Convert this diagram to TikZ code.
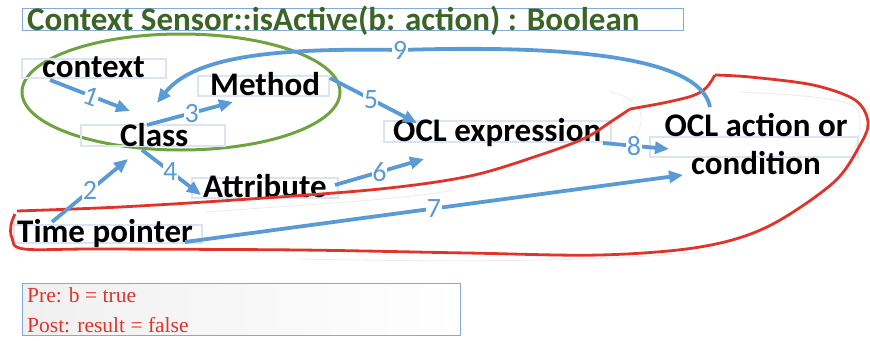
\documentclass[tikz,border=0pt]{standalone}
\usepackage{fontspec}
\setmainfont{Carlito}
\newfontfamily\serifface{Liberation Serif}
\usetikzlibrary{arrows.meta,calc}
\definecolor{flowblue}{HTML}{5B9BD5}
\definecolor{loopred}{HTML}{E0342A}
\definecolor{ctxgreen}{HTML}{6FA33F}
\definecolor{titlegreen}{HTML}{3B6526}
\definecolor{framelav}{HTML}{DDE3F1}
\definecolor{frameblue}{HTML}{86AAD6}
\tikzset{
  lbl/.style={font=\fontsize{33}{36}\selectfont\bfseries, inner sep=0pt, anchor=base west},
  lbox/.style={draw=framelav, line width=1.6pt},
  arr/.style={draw=flowblue, line width=3.8pt, -{Triangle[length=14pt,width=12pt]}},
  num/.style={font=\fontsize{28}{28}\selectfont, text=flowblue, fill=white, inner sep=0.5pt},
  ghost/.style={draw=black!8, line width=0.8pt},
  redline/.style={draw=loopred, line width=2.8pt, line join=round},
  condtext/.style={font=\serifface\fontsize{21.5}{22}\selectfont, text=loopred, inner sep=0pt, anchor=base west},
}
\begin{document}
\begin{tikzpicture}[x=1pt,y=-1pt]
\useasboundingbox (0,0) rectangle (870,340);

% title
\draw[frameblue, line width=0.8pt] (22,8) rectangle (683,30);
\node[lbl, text=titlegreen] (title) at (27,30) {Context Sensor::isActive(b: action) : Boolean};

% context ellipse
\draw[ctxgreen, line width=3pt] (181,92) ellipse [x radius=159, y radius=58];

% faint ghost outlines
\draw[ghost] (610,92) .. controls (650,100) and (650,130) .. (620,150);
\draw[ghost] (740,92) .. controls (800,95) and (850,98) .. (858,110) .. controls (866,130) and (850,170) .. (830,185);
\draw[ghost] (205,212) .. controls (300,205) and (400,200) .. (455,190);
\draw[ghost] (300,259) .. controls (450,262) and (600,262) .. (700,252);

% label frames
\draw[lbox] (22,59) rectangle (166,78);
\draw[lbox] (198,76) rectangle (329,96);
\draw[lbox] (81,125) rectangle (225,146);
\draw[lbox] (384,121) rectangle (611,142);
\draw[lbox] (650,137) rectangle (858,157);
\draw[lbox] (192,178) rectangle (338,198);
\draw[lbox] (14,225) rectangle (202,243);

% labels
\node[lbl] (context) at (42,77) {context};
\node[lbl] (method) at (210,95) {Method};
\node[lbl] (class) at (120,146) {Class};
\node[lbl] (oclexpr) at (393,141) {OCL expression};
\node[font=\fontsize{33}{38}\selectfont\bfseries, align=center, inner sep=0pt, anchor=base] (oclact) at (756,174) {OCL action or\\condition};
\node[lbl] (attribute) at (203,197) {Attribute};
\node[lbl] (timeptr) at (17,242) {Time pointer};

% red loop
\draw[redline]
  plot[smooth, tension=0.55] coordinates {(17,211) (120,207) (250,199) (380,189) (470,176) (540,155) (585,138) (612,121) (630,109)};
\draw[redline]
  plot[smooth, tension=0.55] coordinates {(630,109) (663,103) (692,96) (706,88) (715,75)};
\draw[redline]
  plot[smooth, tension=0.55] coordinates {(715,75) (750,77) (813,85) (855,100) (868,122) (860,145) (833,183) (767,227) (700,247) (600,255) (467,253) (300,250) (100,249) (24,249) (12,238) (11,225) (15,214)};

% connector end points
\coordinate (c1a) at (50,80);   \coordinate (c1b) at (130,111);
\coordinate (c2a) at (52,222);  \coordinate (c2b) at (128,159);
\coordinate (c3a) at (147,125); \coordinate (c3b) at (233,102);
\coordinate (c4a) at (142,150); \coordinate (c4b) at (201,195);
\coordinate (c5a) at (330,78);  \coordinate (c5b) at (417,123);
\coordinate (c6a) at (335,185); \coordinate (c6b) at (424,159);
\coordinate (c7a) at (185,242); \coordinate (c7b) at (683,175);
\coordinate (c8a) at (603,143); \coordinate (c8b) at (669,149);
\coordinate (c9a) at (710,107); \coordinate (c9m) at (400,50); \coordinate (c9b) at (157,103);

% connectors
\draw[arr] (c1a) -- node[num, pos=0.52, rotate=-20, inner sep=0pt] {1} (c1b);
\draw[arr] (c2a) -- node[num, pos=0.5] {2} (c2b);
\draw[arr] (c3a) -- node[num, pos=0.52] {3} (c3b);
\draw[arr] (c4a) -- node[num, pos=0.48] {4} (c4b);
\draw[arr] (c5a) -- node[num, pos=0.47] {5} (c5b);
\draw[arr] (c6a) -- node[num, pos=0.5] {6} (c6b);
\draw[arr] (c7a) -- node[num, pos=0.5] {7} (c7b);
\draw[arr] (c8a) -- node[num, pos=0.47] {8} (c8b);
\draw[arr] (c9a) .. controls (700,55) and (560,45) .. (c9m) .. controls (280,48) and (195,55) .. (c9b);
\node[num] (n9) at (c9m) {9};

% pre / post conditions
\shade[left color=black!6, right color=white, draw=frameblue, line width=0.8pt] (22,283) rectangle (460,335);
\node[condtext] (pre) at (27,302) {Pre: b = true};
\node[condtext] (post) at (27,332) {Post: result = false};
\end{tikzpicture}
\end{document}
